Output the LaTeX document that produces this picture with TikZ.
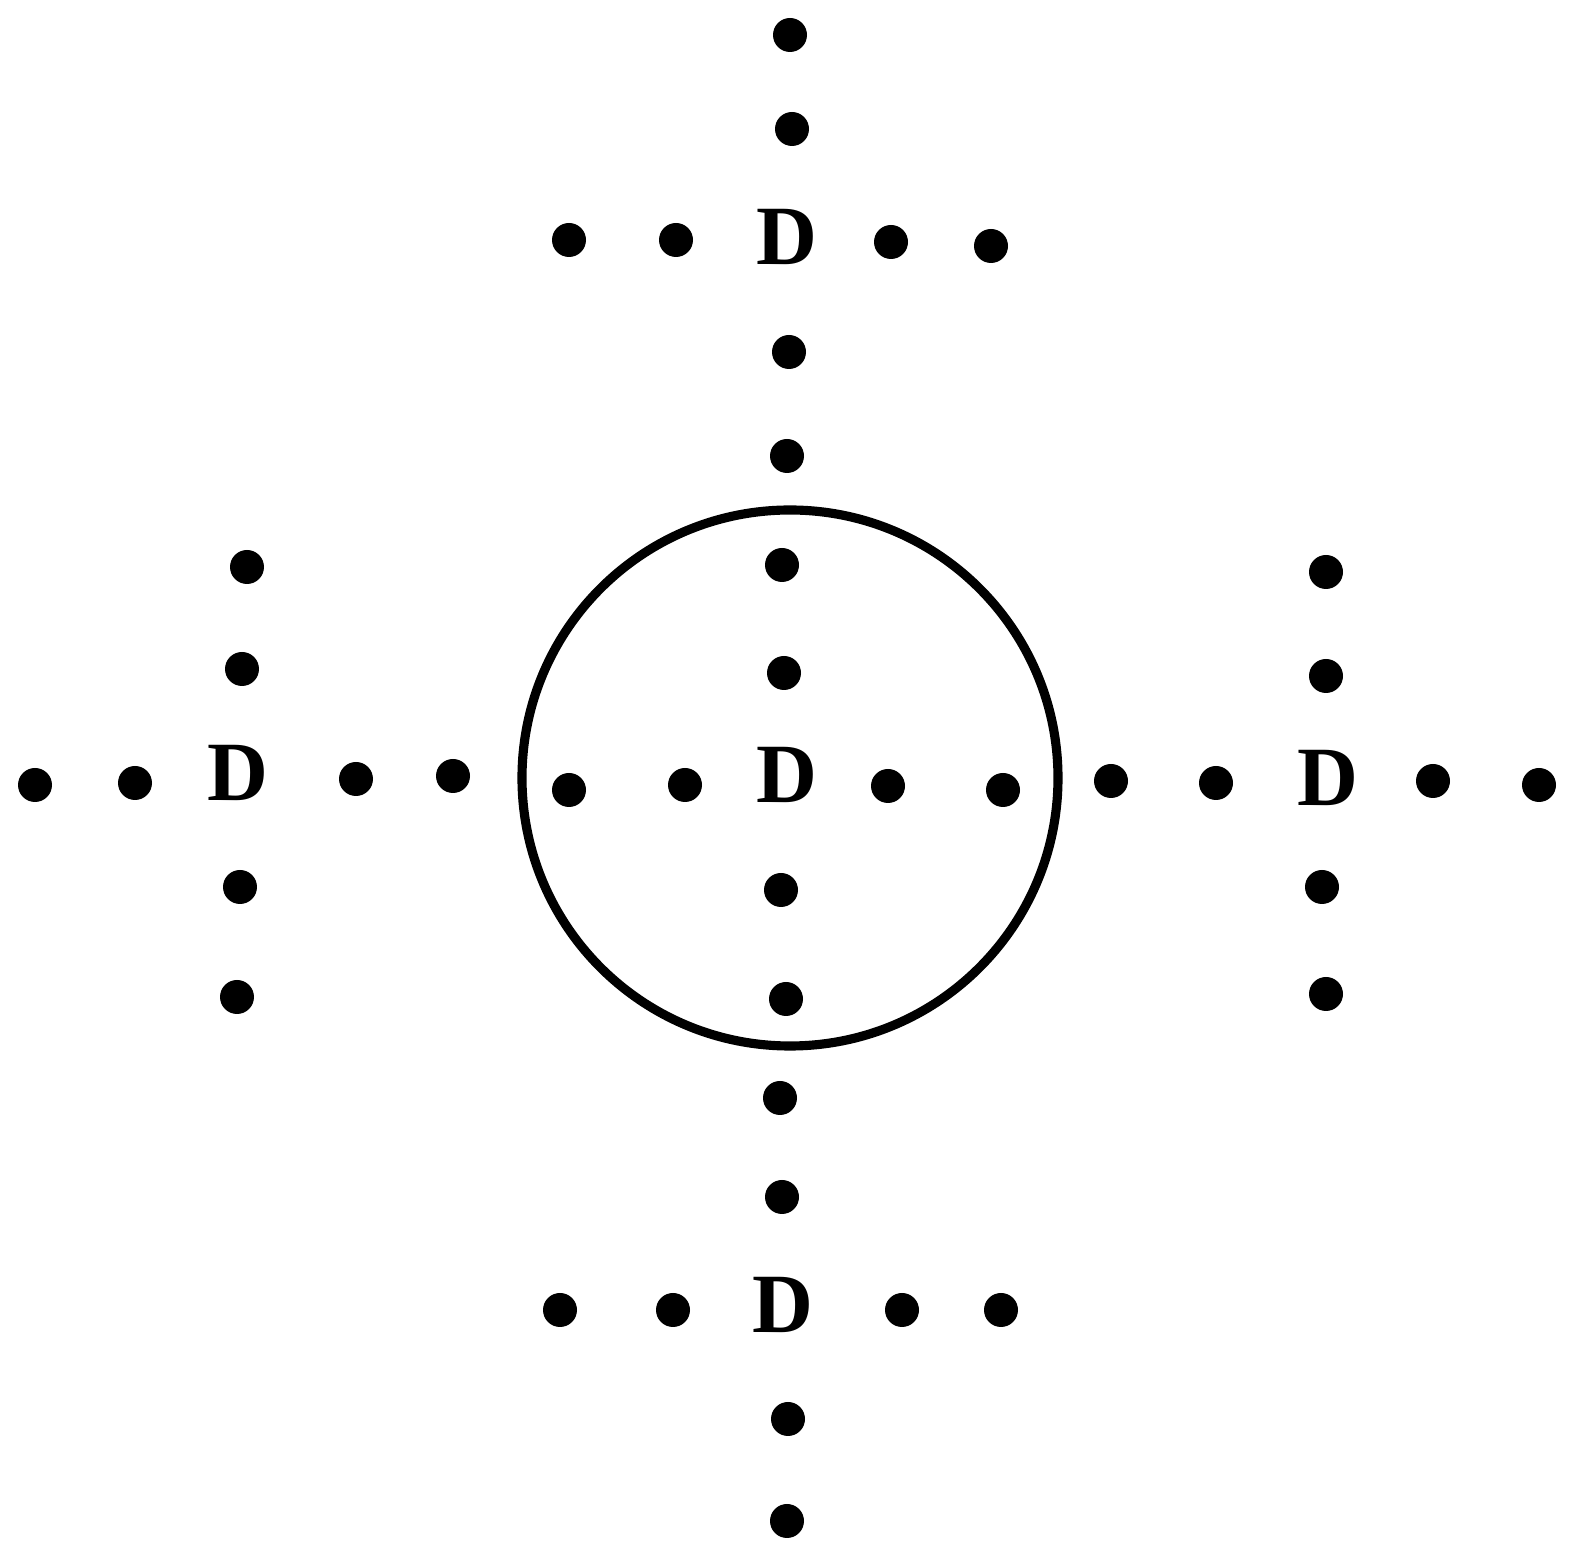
\documentclass[tikz,border=0pt]{standalone}
\usepackage{fontspec}
\newfontfamily\typefont{Liberation Serif}
\begin{document}
\begin{tikzpicture}[
	p/.style = {circle, fill=black, inner sep=0pt, minimum size=0.34cm},
	l/.style = {inner sep=0pt, font=\typefont\bfseries\fontsize{24}{24}\selectfont},
	ring/.style = {circle, draw=black, line width=2.6pt, inner sep=0pt, minimum size=5.36cm}
	]
	
	\useasboundingbox (0, 0) rectangle (15.69, -15.51);
	
	% ===== ===== ===== ===== =====
	
	% Centre
	\node[ring]	(ring)	at	(7.90, -7.78)	{};
	\node[l]	(cD)	at	(7.87, -7.75)	{D};
	
	\node[p]	(cl2)	at	(5.69, -7.90)	{};
	\node[p]	(cl1)	at	(6.85, -7.85)	{};
	\node[p]	(cr1)	at	(8.88, -7.86)	{};
	\node[p]	(cr2)	at	(10.03, -7.90)	{};
	\node[p]	(cu2)	at	(7.82, -5.65)	{};
	\node[p]	(cu1)	at	(7.84, -6.73)	{};
	\node[p]	(cd1)	at	(7.81, -8.90)	{};
	\node[p]	(cd2)	at	(7.86, -9.99)	{};
	
	% ===== ===== ===== ===== =====
	
	% Top
	\node[l]	(tD)	at	(7.87, -2.37)	{D};
	
	\node[p]	(tl2)	at	(5.69, -2.40)	{};
	\node[p]	(tl1)	at	(6.76, -2.40)	{};
	\node[p]	(tr1)	at	(8.91, -2.42)	{};
	\node[p]	(tr2)	at	(9.91, -2.46)	{};
	\node[p]	(tu2)	at	(7.90, -0.35)	{};
	\node[p]	(tu1)	at	(7.92, -1.29)	{};
	\node[p]	(td1)	at	(7.89, -3.52)	{};
	\node[p]	(td2)	at	(7.87, -4.56)	{};
	
	% ===== ===== ===== ===== =====
	
	% Bottom
	\node[l]	(bD)	at	(7.83, -13.05)	{D};
	
	\node[p]	(bl2)	at	(5.60, -13.10)	{};
	\node[p]	(bl1)	at	(6.73, -13.10)	{};
	\node[p]	(br1)	at	(9.02, -13.10)	{};
	\node[p]	(br2)	at	(10.01, -13.10)	{};
	\node[p]	(bu2)	at	(7.80, -10.98)	{};
	\node[p]	(bu1)	at	(7.82, -11.97)	{};
	\node[p]	(bd1)	at	(7.88, -14.19)	{};
	\node[p]	(bd2)	at	(7.87, -15.21)	{};
	
	% ===== ===== ===== ===== =====
	
	% Left
	\node[l]	(lD)	at	(2.38, -7.73)	{D};
	
	\node[p]	(ll2)	at	(0.35, -7.85)	{};
	\node[p]	(ll1)	at	(1.35, -7.83)	{};
	\node[p]	(lr1)	at	(3.56, -7.79)	{};
	\node[p]	(lr2)	at	(4.53, -7.76)	{};
	\node[p]	(lu2)	at	(2.47, -5.67)	{};
	\node[p]	(lu1)	at	(2.42, -6.69)	{};
	\node[p]	(ld1)	at	(2.40, -8.87)	{};
	\node[p]	(ld2)	at	(2.37, -9.97)	{};
	
	% ===== ===== ===== ===== =====
	
	% Right
	\node[l]	(rD)	at	(13.28, -7.78)	{D};
	
	\node[p]	(rl2)	at	(11.11, -7.81)	{};
	\node[p]	(rl1)	at	(12.16, -7.83)	{};
	\node[p]	(rr1)	at	(14.33, -7.81)	{};
	\node[p]	(rr2)	at	(15.39, -7.85)	{};
	\node[p]	(ru2)	at	(13.26, -5.72)	{};
	\node[p]	(ru1)	at	(13.26, -6.76)	{};
	\node[p]	(rd1)	at	(13.22, -8.87)	{};
	\node[p]	(rd2)	at	(13.26, -9.94)	{};
	
\end{tikzpicture}
\end{document}
